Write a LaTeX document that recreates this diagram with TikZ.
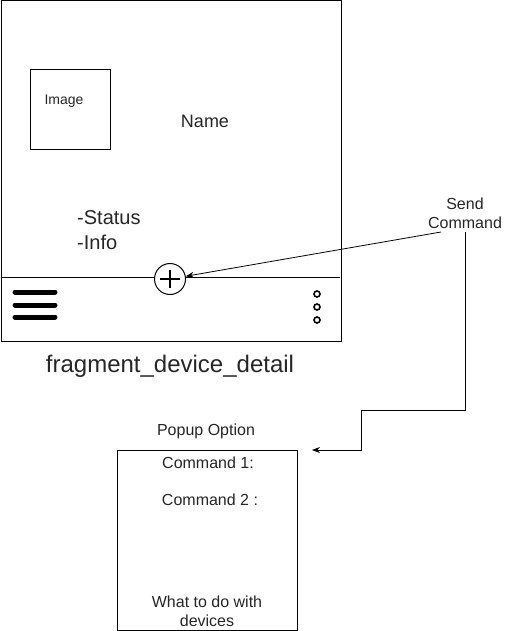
\documentclass[tikz,border=0pt]{standalone}
\usepackage{fontspec}
\setmainfont{Liberation Sans}
\usetikzlibrary{arrows.meta}
\begin{document}
\begin{tikzpicture}[x=1pt,y=-1pt,
  box/.style={draw=black,line width=1pt},
  lbl/.style={inner sep=0pt,align=center,text=black!85},
  fs/.style 2 args={font=\fontsize{#1}{#2}\selectfont},
  arr/.style={line width=0.8pt,-{Stealth[length=8pt,width=6pt]}},
  bar/.style={line width=5pt,line cap=round},
  dot/.style={draw,circle,line width=1.6pt,minimum size=6pt,inner sep=0pt}]
\useasboundingbox (0,0) rectangle (505,631);
\fill[white] (0,0) rectangle (505,631);
% main frame
\node[box,minimum width=340pt,minimum height=340pt,inner sep=0pt,anchor=north west] (frame) at (0.5,0.5) {};
\coordinate (sepL) at (0.5,277);
\coordinate (sepR) at (340,277);
\draw[line width=1pt] (sepL) -- (sepR);
% image box
\node[box,minimum width=80pt,minimum height=80pt,inner sep=0pt] (img) at (70,110) {};
\node[lbl,fs={14}{17}] (imgtxt) at (64,101) {Image};
\node[lbl,fs={18}{21}] (name) at (205,121) {Name};
\node[lbl,fs={20}{24},align=left,anchor=west] (status) at (77,218) {-Status};
\node[lbl,fs={20}{24},align=left,anchor=west] (info) at (77,242) {-Info};
% plus button
\node[draw,circle,line width=1pt,minimum size=31pt,inner sep=0pt,fill=white] (plus) at (170,279) {};
\draw[line width=1.2pt] ([xshift=-10pt]plus.center) -- ([xshift=10pt]plus.center);
\draw[line width=1.2pt] ([yshift=-9pt]plus.center) -- ([yshift=9pt]plus.center);
% hamburger
\coordinate (h1a) at (15,292); \coordinate (h1b) at (55,292);
\coordinate (h2a) at (15,305); \coordinate (h2b) at (55,305);
\coordinate (h3a) at (15,317); \coordinate (h3b) at (55,317);
\draw[bar] (h1a) -- (h1b);
\draw[bar] (h2a) -- (h2b);
\draw[bar] (h3a) -- (h3b);
% dots
\node[dot] (d1) at (317,294) {};
\node[dot] (d2) at (317,307) {};
\node[dot] (d3) at (317,320) {};
% caption
\node[lbl,fs={24}{29}] (cap) at (170,366) {fragment\_device\_detail};
% send command
\node[lbl,fs={16}{19},align=center] (send) at (465,213) {Send\\Command};
\coordinate (sendA) at (441,232);
\draw[arr] (sendA) -- (plus);
% popup
\node[lbl,fs={16}{19}] (poptitle) at (206,431) {Popup Option};
\node[box,minimum width=180pt,minimum height=180pt,inner sep=0pt,anchor=north west] (popup) at (117,450) {};
\node[lbl,fs={16}{19}] (c1) at (208,463) {Command 1:};
\node[lbl,fs={16}{19}] (c2) at (210,500) {Command 2 :};
\node[lbl,fs={16}{19},align=center] (what) at (207,611) {What to do with\\devices};
\coordinate (p0) at (465,232);
\coordinate (p1) at (465,410);
\coordinate (p2) at (361,410);
\coordinate (p3) at (361,450);
\coordinate (p4) at (312,450);
\draw[arr] (p0) -- (p1) -- (p2) -- (p3) -- (p4);
\end{tikzpicture}
\end{document}
